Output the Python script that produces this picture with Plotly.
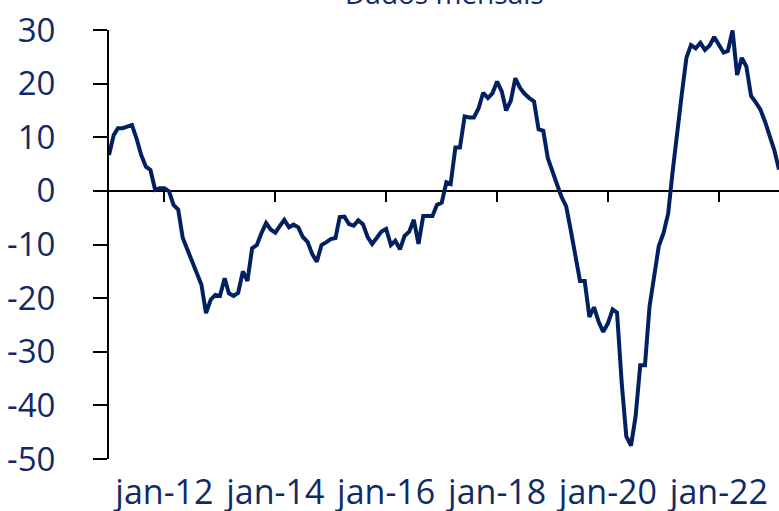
import plotly.graph_objects as go
import pandas as pd

# monthly series, jan-11 .. feb-23
months = pd.date_range("2011-01-01", periods=146, freq="MS")
values = [
    6.7, 10.4, 11.7, 11.7, 12.0, 12.3, 9.8, 6.7, 4.5, 3.9, 0.2, 0.5,
    0.5, -0.1, -2.6, -3.5, -8.8, -11.0, -13.5, -15.7, -17.5, -22.8, -20.3, -19.4,
    -19.6, -16.3, -19.1, -19.6, -19.0, -15.0, -16.8, -10.7, -10.1, -7.9, -6.0, -7.2,
    -7.8, -6.5, -5.4, -6.8, -6.3, -6.8, -8.6, -9.5, -11.8, -13.2, -10.1, -9.6,
    -9.0, -8.8, -4.9, -4.8, -6.2, -6.5, -5.5, -6.2, -8.6, -9.9, -8.6, -7.6,
    -7.1, -10.1, -9.3, -10.9, -8.4, -7.6, -5.4, -9.9, -4.7, -4.7, -4.7, -2.6,
    -2.2, 1.6, 1.3, 8.1, 8.1, 13.9, 13.7, 13.7, 15.4, 18.3, 17.3, 18.2,
    20.4, 18.5, 15.0, 16.8, 21.0, 19.2, 18.1, 17.3, 16.7, 11.5, 11.2, 6.1,
    3.3, 1.1, -1.1, -2.9, -7.3, -12.3, -16.8, -16.8, -23.5, -21.7, -24.4, -26.3,
    -24.7, -22.1, -22.7, -35.9, -45.8, -47.5, -42.1, -32.5, -32.5, -21.6, -15.4, -10.3,
    -7.9, -4.2, 3.3, 11.4, 17.9, 24.8, 27.2, 26.6, 27.6, 26.3, 27.1, 28.7,
    27.2, 25.8, 26.1, 29.9, 21.6, 24.8, 23.2, 17.7, 16.5, 15.2, 12.9, 10.4,
    7.6, 4.0,
]

tick_dates = ["2012-01-01", "2014-01-01", "2016-01-01", "2018-01-01", "2020-01-01", "2022-01-01"]
tick_labels = ["jan-12", "jan-14", "jan-16", "jan-18", "jan-20", "jan-22"]
y_ticks = [30, 20, 10, 0, -10, -20, -30, -40, -50]
y_labels = ["30", "20", "10", "0", "-10", "-20", "-30", "-40", "-50"]

navy = "#002060"
txt = "#0f2a66"
xr = [months[0], months[-1]]

fig = go.Figure()
fig.add_trace(go.Scatter(x=months, y=values, mode="lines",
                         line=dict(color=navy, width=4), showlegend=False))

fig.update_layout(
    width=779, height=511,
    margin=dict(l=109, r=0, t=30, b=52),
    plot_bgcolor="white", paper_bgcolor="white",
    xaxis=dict(range=xr, tickvals=tick_dates, ticktext=tick_labels,
               showgrid=False, zeroline=False, showline=False, ticks="",
               tickfont=dict(family="Open Sans", size=34, color=txt),
               ticklabelstandoff=10, automargin=False),
    # tick marks hanging from the zero line
    xaxis2=dict(range=xr, overlaying="x", anchor="free", position=268 / 429,
                tickvals=tick_dates, showticklabels=False, ticks="outside",
                ticklen=10, tickwidth=2, tickcolor="black",
                showgrid=False, zeroline=False, showline=False, automargin=False),
    yaxis=dict(range=[-50, 30], tickvals=y_ticks, ticktext=y_labels, showgrid=False,
               zeroline=True, zerolinecolor="black", zerolinewidth=2,
               showline=True, linecolor="black", linewidth=2,
               ticks="outside", ticklen=14, tickwidth=2, tickcolor="black",
               tickfont=dict(family="Open Sans", size=33, color=txt),
               ticklabelstandoff=31, automargin=False),
)
fig.add_trace(go.Scatter(x=xr, y=[None, None], xaxis="x2", showlegend=False,
                         hoverinfo="skip"))

fig.add_annotation(text="Dados mensais", xref="paper", yref="paper",
                   x=0.5, y=1, yshift=16, yanchor="bottom", showarrow=False,
                   font=dict(family="Open Sans", size=28, color=txt))

fig.write_html("out.html", config={"displayModeBar": False},
               post_script="document.body.style.margin='0';")
